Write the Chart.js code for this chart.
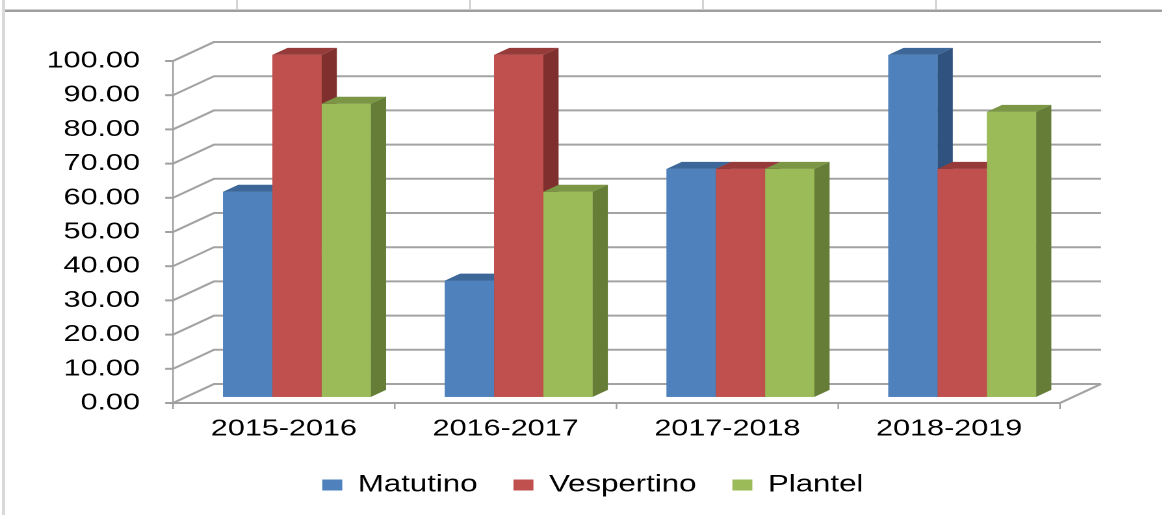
<!DOCTYPE html>
<html><head><meta charset="utf-8">
<script src="https://cdn.jsdelivr.net/npm/chart.js@4.4.0/dist/chart.umd.min.js"></script>
<style>
html,body{margin:0;padding:0;background:#fff;overflow:hidden;width:1162px;height:515px;}
#wrap{position:absolute;left:0;top:0;width:894px;height:515px;transform:scaleX(1.3);transform-origin:0 0;}
.ln{position:absolute;}
</style></head><body>
<div id="wrap"><canvas id="c"></canvas></div>
<div class="ln" style="left:2px;top:0;width:3px;height:515px;background:#d9d9d9"></div>
<div class="ln" style="left:5px;top:9px;width:1157px;height:1px;background:#cfcfcf"></div>
<div class="ln" style="left:5px;top:10px;width:1157px;height:2px;background:#9f9f9f"></div>
<div class="ln" style="left:236px;top:0;width:2px;height:9px;background:#d4d4d4"></div>
<div class="ln" style="left:469px;top:0;width:2px;height:9px;background:#d4d4d4"></div>
<div class="ln" style="left:702px;top:0;width:2px;height:9px;background:#d4d4d4"></div>
<div class="ln" style="left:935px;top:0;width:2px;height:9px;background:#d4d4d4"></div>
<script>
// ---- data ----
const categories = ['2015-2016', '2016-2017', '2017-2018', '2018-2019'];
const seriesNames = ['Matutino', 'Vespertino', 'Plantel'];
const matutino = [60, 34, 66.67, 100];
const vespertino = [100, 100, 66.67, 66.67];
const plantel = [85.71, 60, 66.67, 83.33];
const yTicks = [0, 10, 20, 30, 40, 50, 60, 70, 80, 90, 100];

// ---- styling / geometry ----
const S = 1.3;                    // horizontal stretch of the whole picture
const DEPTH_X = 41 / S, DEPTH_Y = -19;
const BAR_OFF = 0.32, BAR_DEPTH = 0.37;
const FONT = "'Liberation Sans', Arial, sans-serif";
const faceColors = [
  {front: '#4F81BD', top: '#3C6798', side: '#30527E'},
  {front: '#C0504D', top: '#963B39', side: '#7E2F2E'},
  {front: '#9BBB59', top: '#7B9645', side: '#657D37'}
];
const PAD_LEFT = 18, PAD_TOP = 61, PAD_BOTTOM = 8;
const RIGHT_SPACE = 78.6;
const AXIS_LEFT = 173 / S;
const PLOT_BOTTOM = 403;

const pseudo3d = {
  id: 'pseudo3d',
  beforeDatasetsDraw(chart) {
    const {ctx, chartArea: a, scales: {x, y}} = chart;
    const b = y.getPixelForValue(0);
    const t = y.getPixelForValue(yTicks[yTicks.length - 1]);
    ctx.save();
    ctx.lineCap = 'butt';
    ctx.strokeStyle = '#a3a3a3';
    ctx.lineWidth = 2;
    yTicks.forEach(v => {
      const py = y.getPixelForValue(v);
      ctx.beginPath();
      ctx.moveTo(a.left, py);
      ctx.lineTo(a.left + DEPTH_X, py + DEPTH_Y);
      ctx.lineTo(a.right + DEPTH_X, py + DEPTH_Y);
      ctx.stroke();
    });
    ctx.beginPath();
    ctx.moveTo(a.right, b);
    ctx.lineTo(a.right + DEPTH_X, b + DEPTH_Y);
    ctx.stroke();
    ctx.strokeStyle = '#a0a0a0';
    ctx.lineWidth = 1.6 / S;
    ctx.beginPath();
    ctx.moveTo(a.left, t - 1);
    ctx.lineTo(a.left, b + 3);
    ctx.stroke();
    ctx.lineWidth = 2;
    ctx.beginPath();
    ctx.moveTo(a.left, b);
    ctx.lineTo(a.right, b);
    ctx.stroke();
    yTicks.forEach(v => {
      const py = y.getPixelForValue(v);
      ctx.beginPath();
      ctx.moveTo(a.left - 6, py);
      ctx.lineTo(a.left, py);
      ctx.stroke();
    });
    ctx.lineWidth = 1.6 / S;
    for (let i = 0; i <= categories.length; i++) {
      const px = x.getPixelForValue(i - 0.5);
      ctx.beginPath();
      ctx.moveTo(px, b);
      ctx.lineTo(px, b + 6);
      ctx.stroke();
    }
    ctx.restore();
    ctx.save();
    ctx.translate(DEPTH_X * BAR_OFF, DEPTH_Y * BAR_OFF);
  },
  afterDatasetsDraw(chart) {
    const {ctx} = chart;
    const bdx = DEPTH_X * BAR_DEPTH, bdy = DEPTH_Y * BAR_DEPTH;
    for (let i = 0; i < categories.length; i++) {
      for (let d = 0; d < chart.data.datasets.length; d++) {
        const el = chart.getDatasetMeta(d).data[i];
        if (!el) continue;
        const p = el.getProps(['x', 'y', 'base', 'width'], true);
        const x0 = p.x - p.width / 2, x1 = p.x + p.width / 2;
        const yt = Math.min(p.y, p.base), yb = Math.max(p.y, p.base);
        const c = faceColors[d];
        ctx.fillStyle = c.front;
        ctx.fillRect(x0, yt, x1 - x0, yb - yt);
        ctx.fillStyle = c.top;
        ctx.beginPath();
        ctx.moveTo(x0, yt); ctx.lineTo(x0 + bdx, yt + bdy);
        ctx.lineTo(x1 + bdx, yt + bdy); ctx.lineTo(x1, yt);
        ctx.closePath(); ctx.fill();
        ctx.fillStyle = c.side;
        ctx.beginPath();
        ctx.moveTo(x1, yt); ctx.lineTo(x1 + bdx, yt + bdy);
        ctx.lineTo(x1 + bdx, yb + bdy); ctx.lineTo(x1, yb);
        ctx.closePath(); ctx.fill();
      }
    }
    ctx.restore();
  }
};

const seriesData = [matutino, vespertino, plantel];
new Chart(document.getElementById('c'), {
  type: 'bar',
  data: {
    labels: categories,
    datasets: seriesNames.map((name, k) => ({
      label: name,
      data: seriesData[k],
      backgroundColor: faceColors[k].front,
      borderWidth: 0,
      categoryPercentage: 3 / 4.5,
      barPercentage: 1
    }))
  },
  options: {
    responsive: true,
    maintainAspectRatio: false,
    devicePixelRatio: 2,
    animation: false,
    events: [],
    layout: {padding: {left: PAD_LEFT, right: 0, top: PAD_TOP, bottom: PAD_BOTTOM}},
    scales: {
      x: {
        grid: {display: false, drawTicks: false, tickLength: 0},
        border: {display: false},
        ticks: {color: '#000', font: {family: FONT, size: 23.5}, padding: 12, maxRotation: 0, autoSkip: false},
        afterFit(s) { s.height = 515 - PLOT_BOTTOM - s.chart.legend.height - PAD_BOTTOM; }
      },
      y: {
        min: 0, max: 100,
        grid: {display: false, drawTicks: false, tickLength: 0},
        border: {display: false},
        afterBuildTicks(s) { s.ticks = yTicks.map(v => ({value: v})); },
        ticks: {color: '#000', font: {family: FONT, size: 23.5}, padding: AXIS_LEFT - 140 / S,
                callback: v => Number(v).toFixed(2)},
        afterFit(s) { s.width = AXIS_LEFT - PAD_LEFT; }
      },
      spacer: {
        type: 'linear',
        position: 'right',
        display: true,
        grid: {display: false, drawTicks: false},
        border: {display: false},
        ticks: {display: false},
        afterFit(s) { s.width = RIGHT_SPACE; }
      }
    },
    plugins: {
      legend: {
        position: 'bottom',
        labels: {color: '#000', font: {family: FONT, size: 24}, boxWidth: 15.4, boxHeight: 11, padding: 27.6}
      },
      tooltip: {enabled: false}
    }
  },
  plugins: [pseudo3d]
});
</script>
</body></html>
